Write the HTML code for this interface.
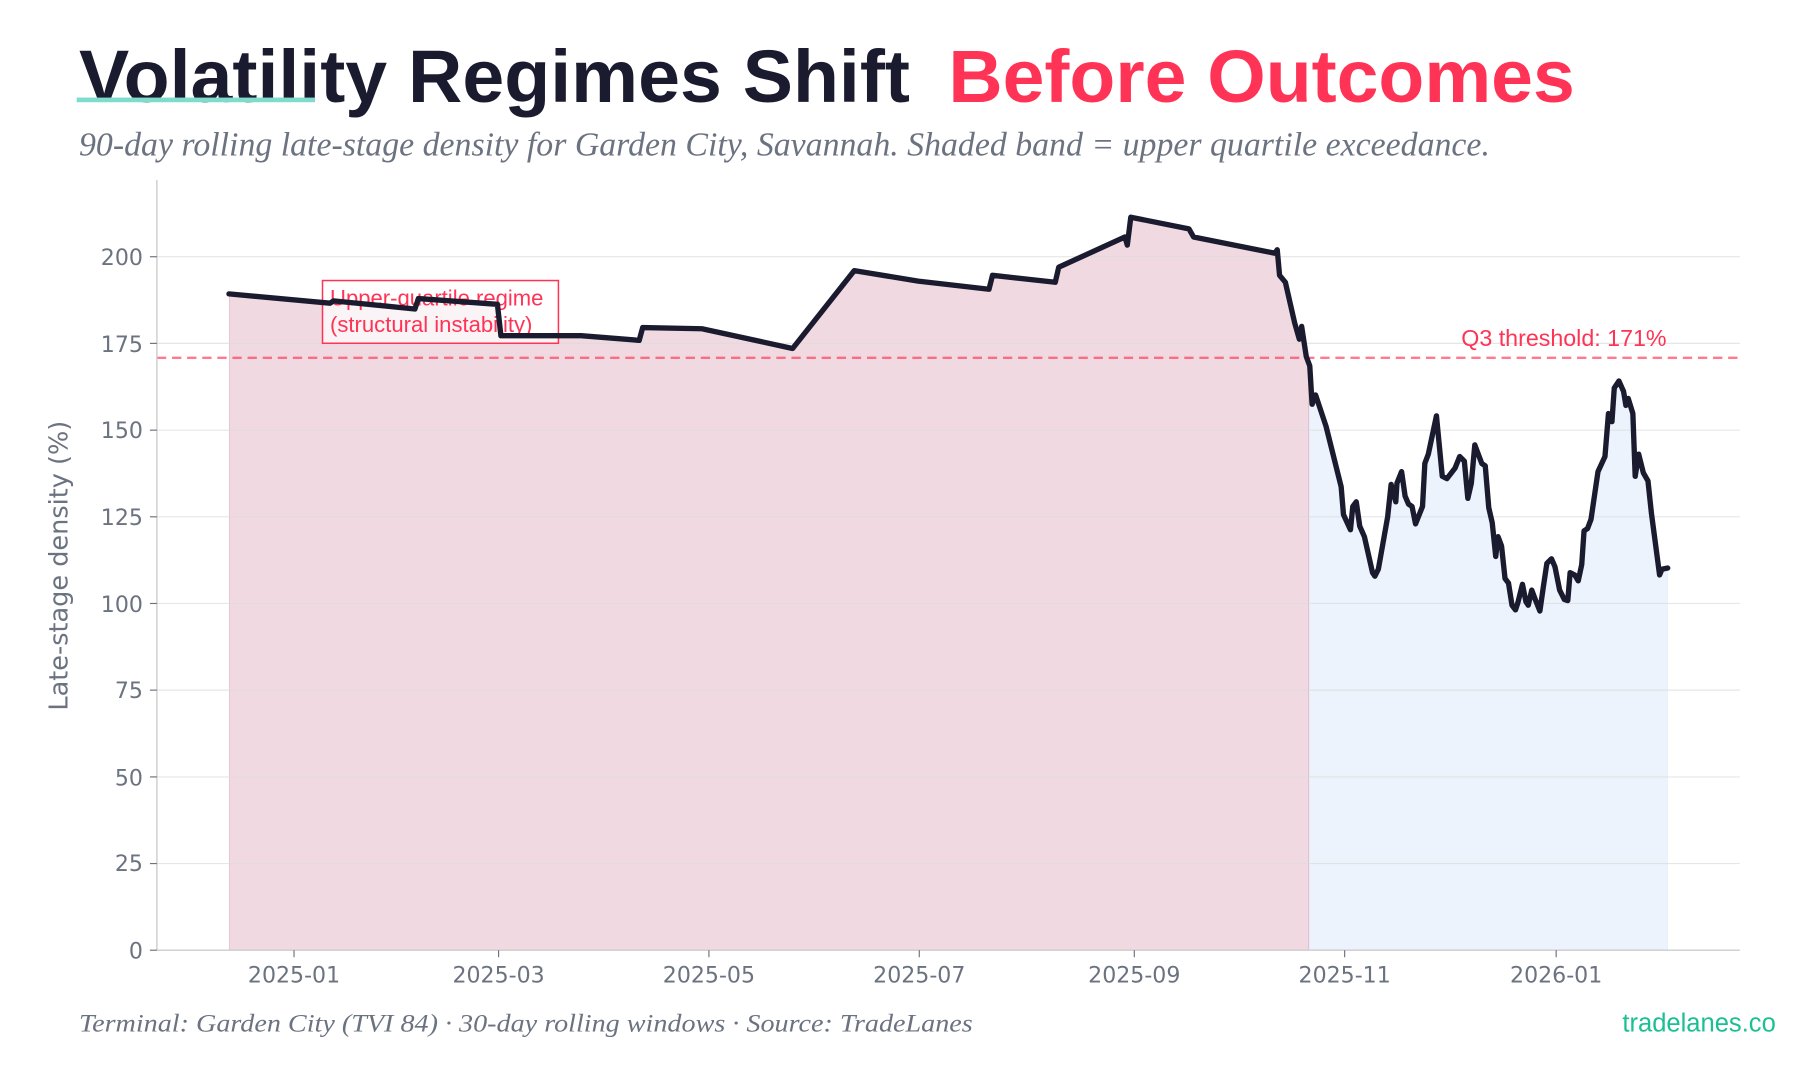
<!DOCTYPE html>
<html><head><meta charset="utf-8"><style>
html,body{margin:0;padding:0;background:#fff;}
svg{display:block;}
</style></head><body>
<svg width="1813" height="1078" viewBox="0 0 1560 928" preserveAspectRatio="none" xmlns="http://www.w3.org/2000/svg">
<defs>
<clipPath id="under"><path d="M197,818 L197,253 L284,261 L287,259 L357,266 L360,257 L428,262 L431,289 L500,289 L550,293 L553,282 L604,283 L682,300 L735,233 L790,242 L851,249 L854,237 L908,243 L911,230 L968,204 L970,211 L973,187 L1023,197 L1027,204 L1097,218 L1099,215 L1101,237 L1106,243 L1114,278 L1118,292 L1120,281 L1124,307 L1127,315 L1129,348 L1132,340 L1141,367 L1154,419 L1156,443 L1162,456 L1164,436 L1167,432 L1170,453 L1174,462 L1181,493 L1183,496 L1186,490 L1194,445 L1197,417 L1201,432 L1202,416 L1206,406 L1209,427 L1212,434 L1215,436 L1218,451 L1224,436 L1226,399 L1229,391 L1236,358 L1241,410 L1245,412 L1252,403 L1256,393 L1260,397 L1263,429 L1266,416 L1269,383 L1275,399 L1278,401 L1281,437 L1284,450 L1287,479 L1289,462 L1292,470 L1295,498 L1298,502 L1301,521 L1304,525 L1306,519 L1310,503 L1313,518 L1315,521 L1318,508 L1321,516 L1325,526 L1328,505 L1331,485 L1335,481 L1338,488 L1342,508 L1346,516 L1349,517 L1351,493 L1355,495 L1358,500 L1361,486 L1363,457 L1366,455 L1369,447 L1375,406 L1381,393 L1384,356 L1387,363 L1389,334 L1393,328 L1397,337 L1399,349 L1401,343 L1405,356 L1407,410 L1410,391 L1414,407 L1418,414 L1421,442 L1428,495 L1430,490 L1435,489 L1435,818 Z"/></clipPath>
</defs>
<rect width="1560" height="928" fill="#fff"/>
<g clip-path="url(#under)">
<rect x="197" y="155" width="929" height="663" fill="#c0507d" fill-opacity="0.22"/>
<rect x="1126" y="155" width="309" height="663" fill="#c9def7" fill-opacity="0.35"/>
<line x1="197" x2="197" y1="155" y2="818" stroke="#c0507d" stroke-opacity="0.25"/>
<line x1="1126" x2="1126" y1="155" y2="818" stroke="#c0507d" stroke-opacity="0.25"/>
<line x1="1435" x2="1435" y1="155" y2="818" stroke="#9db8e0" stroke-opacity="0.3"/>
</g>
<g stroke="#dcdcdc" stroke-opacity="0.7" stroke-width="1">
<line x1="135" x2="1497" y1="743.4" y2="743.4"/><line x1="135" x2="1497" y1="668.8" y2="668.8"/>
<line x1="135" x2="1497" y1="594.1" y2="594.1"/><line x1="135" x2="1497" y1="519.5" y2="519.5"/>
<line x1="135" x2="1497" y1="444.9" y2="444.9"/><line x1="135" x2="1497" y1="370.3" y2="370.3"/>
<line x1="135" x2="1497" y1="295.6" y2="295.6"/><line x1="135" x2="1497" y1="221" y2="221"/>
</g>

<text x="68" y="88" font-family="Liberation Sans, sans-serif" font-weight="bold" font-size="64" fill="#1b1b2f" textLength="715" lengthAdjust="spacingAndGlyphs">Volatility Regimes Shift</text>
<rect x="66" y="84" width="205" height="4" fill="#7fdccc"/>
<text x="816" y="88" font-family="Liberation Sans, sans-serif" font-weight="bold" font-size="64" fill="#ff3355" textLength="539" lengthAdjust="spacingAndGlyphs">Before Outcomes</text>
<text x="68" y="134" font-family="Liberation Serif, serif" font-style="italic" font-size="29" fill="#6b7280" textLength="1214" lengthAdjust="spacingAndGlyphs">90-day rolling late-stage density for Garden City, Savannah.  Shaded band = upper quartile exceedance.</text>

<line x1="135" x2="1497" y1="308" y2="308" stroke="#ff3355" stroke-opacity="0.65" stroke-width="2" stroke-dasharray="8,5"/>
<text x="1434" y="298" text-anchor="end" font-family="Liberation Sans, sans-serif" font-size="20" fill="#ff3355">Q3 threshold: 171%</text>
<rect x="277.5" y="241.5" width="203" height="54" fill="#fff" fill-opacity="0.7" stroke="#ff3355" stroke-width="1.3"/>
<text x="284" y="263" font-family="Liberation Sans, sans-serif" font-size="19" fill="#ff3355">Upper-quartile regime</text>
<text x="284" y="286" font-family="Liberation Sans, sans-serif" font-size="19" fill="#ff3355">(structural instability)</text>
<polyline fill="none" stroke="#1b1b2f" stroke-width="4.6" stroke-linejoin="round" stroke-linecap="round" points="197,253 284,261 287,259 357,266 360,257 428,262 431,289 500,289 550,293 553,282 604,283 682,300 735,233 790,242 851,249 854,237 908,243 911,230 968,204 970,211 973,187 1023,197 1027,204 1097,218 1099,215 1101,237 1106,243 1114,278 1118,292 1120,281 1124,307 1127,315 1129,348 1132,340 1141,367 1154,419 1156,443 1162,456 1164,436 1167,432 1170,453 1174,462 1181,493 1183,496 1186,490 1194,445 1197,417 1201,432 1202,416 1206,406 1209,427 1212,434 1215,436 1218,451 1224,436 1226,399 1229,391 1236,358 1241,410 1245,412 1252,403 1256,393 1260,397 1263,429 1266,416 1269,383 1275,399 1278,401 1281,437 1284,450 1287,479 1289,462 1292,470 1295,498 1298,502 1301,521 1304,525 1306,519 1310,503 1313,518 1315,521 1318,508 1321,516 1325,526 1328,505 1331,485 1335,481 1338,488 1342,508 1346,516 1349,517 1351,493 1355,495 1358,500 1361,486 1363,457 1366,455 1369,447 1375,406 1381,393 1384,356 1387,363 1389,334 1393,328 1397,337 1399,349 1401,343 1405,356 1407,410 1410,391 1414,407 1418,414 1421,442 1428,495 1430,490 1435,489"/>
<line x1="135" x2="135" y1="155" y2="818" stroke="#cccccc" stroke-width="1.2"/>
<line x1="135" x2="1497" y1="818" y2="818" stroke="#cccccc" stroke-width="1.2"/>
<g stroke="#6b7280" stroke-width="1">
<line x1="129" x2="135" y1="818" y2="818"/><line x1="129" x2="135" y1="743.4" y2="743.4"/><line x1="129" x2="135" y1="668.8" y2="668.8"/><line x1="129" x2="135" y1="594.1" y2="594.1"/><line x1="129" x2="135" y1="519.5" y2="519.5"/><line x1="129" x2="135" y1="444.9" y2="444.9"/><line x1="129" x2="135" y1="370.3" y2="370.3"/><line x1="129" x2="135" y1="295.6" y2="295.6"/><line x1="129" x2="135" y1="221" y2="221"/>
<line x1="253" x2="253" y1="818" y2="824"/><line x1="429" x2="429" y1="818" y2="824"/><line x1="610" x2="610" y1="818" y2="824"/><line x1="791" x2="791" y1="818" y2="824"/><line x1="976" x2="976" y1="818" y2="824"/><line x1="1157" x2="1157" y1="818" y2="824"/><line x1="1339" x2="1339" y1="818" y2="824"/>
</g>
<g font-family="DejaVu Sans, sans-serif" font-size="19" fill="#6b7280" text-anchor="end">
<text x="123" y="825">0</text><text x="123" y="750">25</text><text x="123" y="676">50</text><text x="123" y="601">75</text><text x="123" y="527">100</text><text x="123" y="452">125</text><text x="123" y="377">150</text><text x="123" y="303">175</text><text x="123" y="228">200</text>
</g>
<g font-family="DejaVu Sans, sans-serif" font-size="19" fill="#6b7280" text-anchor="middle">
<text x="253" y="846">2025-01</text><text x="429" y="846">2025-03</text><text x="610" y="846">2025-05</text><text x="791" y="846">2025-07</text><text x="976" y="846">2025-09</text><text x="1157" y="846">2025-11</text><text x="1339" y="846">2026-01</text>
</g>
<text transform="translate(58,487) rotate(-90)" text-anchor="middle" font-family="DejaVu Sans, sans-serif" font-size="22" fill="#6b7280">Late-stage density (%)</text>
<text x="68" y="888" font-family="Liberation Serif, serif" font-style="italic" font-size="22" fill="#6b7280" textLength="769" lengthAdjust="spacingAndGlyphs">Terminal: Garden City (TVI 84)  ·  30-day rolling windows  ·  Source: TradeLanes</text>
<text x="1528" y="888" text-anchor="end" font-family="Liberation Sans, sans-serif" font-size="22" fill="#1bbf94">tradelanes.co</text>
</svg>
</body></html>
